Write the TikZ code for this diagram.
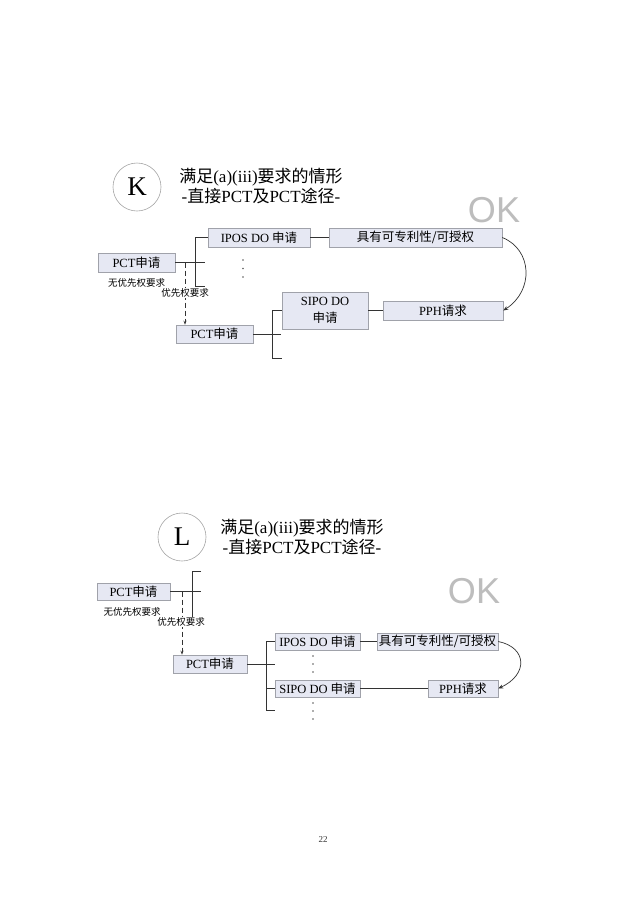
\documentclass[tikz,border=0pt]{standalone}
\usepackage{fontspec}
\usetikzlibrary{arrows.meta}
\setmainfont{Liberation Serif}
\newfontfamily\cjk{Noto Sans CJK SC}
\newfontfamily\oksans{Liberation Sans}
\newcommand\zh[1]{{\cjk #1}}
\definecolor{boxfill}{HTML}{E6E8F3}
\definecolor{boxline}{HTML}{A0A2AA}
\definecolor{okgray}{HTML}{BDBDBD}
\definecolor{linec}{HTML}{333333}
\begin{document}
\begin{tikzpicture}[x=1pt,y=-1pt,
  bx/.style={draw=boxline,fill=boxfill,line width=0.6pt,inner sep=0pt,align=center,font=\fontsize{12.5}{15}\selectfont},
  conn/.style={draw=linec,line width=0.8pt},
  dsh/.style={draw=linec,line width=0.7pt,dash pattern=on 5pt off 3pt,-{Stealth[length=4pt,width=3pt]}},
  crv/.style={draw=linec,line width=0.7pt,-{Stealth[length=5pt,width=4pt]}},
  lbl/.style={font=\fontsize{9.5}{11}\selectfont,inner sep=1pt},
  ttl/.style={font=\fontsize{17}{20}\selectfont,inner sep=0pt},
  letter/.style={circle,draw=gray!70,line width=0.6pt,minimum size=48pt,inner sep=0pt,font=\fontsize{27}{30}\selectfont},
  oktxt/.style={text=okgray,font=\oksans\fontsize{36}{40}\selectfont,inner sep=0pt},
  dotn/.style={circle,fill=linec!80,inner sep=0pt,minimum size=1.7pt}]
\useasboundingbox[fill=white] (0,0) rectangle (640,906);

% ---------------- K ----------------
\node[letter] (kc) at (137,187) {K};
\node[ttl] (kt1) at (261,177) {\zh{满足}(a)(iii)\zh{要求的情形}};
\node[ttl] (kt2) at (261,196) {-\zh{直接}PCT\zh{及}PCT\zh{途径}-};
\node[oktxt] (kok) at (494,210) {OK};

\node[bx,minimum width=102pt,minimum height=19pt] (kipos) at (259,237.5) {IPOS DO \zh{申请}};
\node[bx,minimum width=173pt,minimum height=19pt] (kpat) at (415.5,237.5) {\zh{具有可专利性/可授权}};
\node[bx,minimum width=77pt,minimum height=19pt] (kpct1) at (136.5,262.5) {PCT\zh{申请}};
\node[bx,minimum width=77pt,minimum height=18pt] (kpct2) at (214.5,334) {PCT\zh{申请}};
\node[bx,minimum width=86pt,minimum height=37pt,font=\fontsize{12.5}{17}\selectfont] (ksipo) at (325,310.5) {SIPO DO\\\zh{申请}};
\node[bx,minimum width=120pt,minimum height=19pt] (kpph) at (443,310.5) {PPH\zh{请求}};

\coordinate (kbt) at (195,237.5);
\coordinate (kbb) at (195,286);
\coordinate (kbbe) at (205,286);
\coordinate (kbm) at (205,262.5);
\coordinate (kd) at (185,262.5);
\draw[conn] (kipos.west) -- (kbt) -- (kbb) -- (kbbe);
\draw[conn] (kpct1.east) -- (kbm);
\draw[conn] (kipos.east) -- (kpat.west);

\coordinate (kb2t) at (272,310.5);
\coordinate (kb2b) at (272,358);
\coordinate (kb2be) at (282,358);
\coordinate (kb2m) at (281,334);
\draw[conn] (ksipo.west) -- (kb2t) -- (kb2b) -- (kb2be);
\draw[conn] (kpct2.east) -- (kb2m);
\draw[conn] (ksipo.east) -- (kpph.west);

\draw[crv] (kpat.east) .. controls +(30,12) and +(31,-20) .. (kpph.east);

\draw[dsh] (kd) -- (kd |- kpct2.north);
\node[lbl] (knp) at (136.5,283) {\zh{无优先权要求}};
\node[lbl,fill=white] (kp) at (185,293) {\zh{优先权要求}};

\node[dotn] (kdot1) at (243,260) {};
\node[dotn] (kdot2) at (243,268.5) {};
\node[dotn] (kdot3) at (243,277) {};

% ---------------- L ----------------
\node[letter] (lc) at (182,537) {L};
\node[ttl] (lt1) at (302,528) {\zh{满足}(a)(iii)\zh{要求的情形}};
\node[ttl] (lt2) at (302,547) {-\zh{直接}PCT\zh{及}PCT\zh{途径}-};
\node[oktxt] (lok) at (474,591) {OK};

\node[bx,minimum width=73pt,minimum height=17pt] (lpct1) at (133.5,591.5) {PCT\zh{申请}};
\coordinate (lbt) at (192,571);
\coordinate (lbte) at (201,571);
\coordinate (lbb) at (192,617);
\coordinate (lbbe) at (201,617);
\coordinate (lbm) at (201,591.5);
\coordinate (ld) at (182,591.5);
\draw[conn] (lbte) -- (lbt) -- (lbb) -- (lbbe);
\draw[conn] (lpct1.east) -- (lbm);

\node[bx,minimum width=74pt,minimum height=18pt] (lpct2) at (210,664) {PCT\zh{申请}};
\draw[dsh] (ld) -- (ld |- lpct2.north);
\node[lbl] (lnp) at (132,612) {\zh{无优先权要求}};
\node[lbl,fill=white] (lp) at (181,622) {\zh{优先权要求}};

\node[bx,minimum width=85pt,minimum height=17pt] (lipos) at (317.5,641.5) {IPOS DO \zh{申请}};
\node[bx,minimum width=121pt,minimum height=17pt] (lpat) at (437.5,641.5) {\zh{具有可专利性/可授权}};
\node[bx,minimum width=85pt,minimum height=17pt] (lsipo) at (317.5,688.5) {SIPO DO \zh{申请}};
\node[bx,minimum width=70pt,minimum height=17pt] (lpph) at (463,688.5) {PPH\zh{请求}};

\coordinate (lb2t) at (266,641.5);
\coordinate (lb2b) at (266,710);
\coordinate (lb2be) at (275,710);
\coordinate (lb2m) at (275,664);
\coordinate (lb2s) at (266,688.5);
\draw[conn] (lipos.west) -- (lb2t) -- (lb2b) -- (lb2be);
\draw[conn] (lpct2.east) -- (lb2m);
\draw[conn] (lb2s) -- (lsipo.west);
\draw[conn] (lipos.east) -- (lpat.west);
\draw[conn] (lsipo.east) -- (lpph.west);

\draw[crv] (lpat.east) .. controls +(29,6) and +(30,-14) .. (lpph.east);

\node[dotn] (ldot1) at (313,656) {};
\node[dotn] (ldot2) at (313,664) {};
\node[dotn] (ldot3) at (313,672) {};
\node[dotn] (ldot4) at (313,703) {};
\node[dotn] (ldot5) at (313,711) {};
\node[dotn] (ldot6) at (313,719) {};

\node[font=\fontsize{9}{10}\selectfont,text=linec] (pg) at (323,840) {22};
\end{tikzpicture}
\end{document}
